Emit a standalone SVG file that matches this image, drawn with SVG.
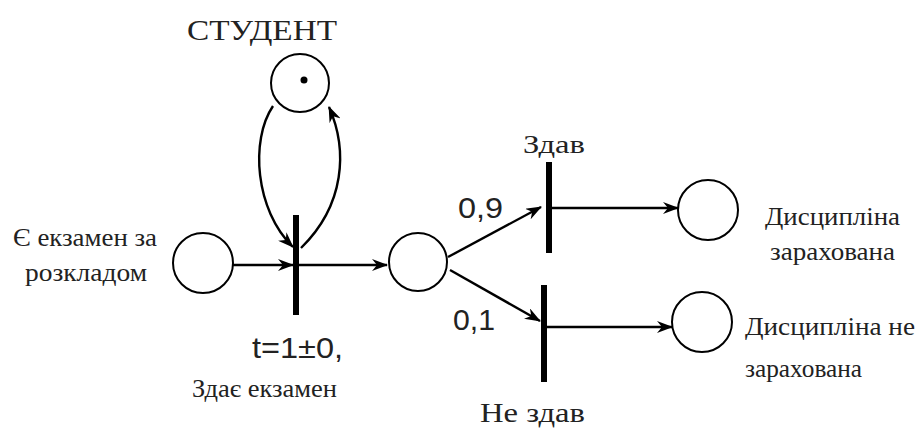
<svg xmlns="http://www.w3.org/2000/svg" width="918" height="429" viewBox="0 0 918 429">
<style>
.place{fill:#fff;stroke:#000;stroke-width:2}
.bar{stroke:#000;stroke-width:6}
.arc{fill:none;stroke:#000;stroke-width:2.4;marker-end:url(#ah)}
.serif{font-family:'Liberation Serif','DejaVu Serif',serif;fill:#222}
.sans{font-family:'Liberation Sans','DejaVu Sans',sans-serif;fill:#222}
</style>
<defs>
<marker id="ah" viewBox="0 0 16 12" refX="15" refY="6" markerWidth="16" markerHeight="12" markerUnits="userSpaceOnUse" orient="auto">
<path d="M0,0 L16,6 L0,12 L5,6 Z" fill="#000"/>
</marker>
</defs>
<rect width="918" height="429" fill="#fff"/>
<g id="connectors">
<line class="arc" x1="233" y1="265" x2="293" y2="265"/>
<line class="arc" x1="298" y1="265" x2="387" y2="265"/>
<path class="arc" d="M273,106 C250,140 255,210 293,247"/>
<path class="arc" d="M301,248 C345,205 348,150 329,107"/>
<line class="arc" x1="448" y1="257" x2="541" y2="207"/>
<line class="arc" x1="450" y1="270" x2="540" y2="321"/>
<line class="arc" x1="552" y1="208" x2="678" y2="208"/>
<line class="arc" x1="547" y1="327" x2="672" y2="327"/>
</g>
<g id="p-student">
<circle class="place" cx="300" cy="83" r="29"/>
<circle cx="304" cy="80" r="3.5" fill="#000"/>
<text class="serif" x="187" y="40" font-size="30" textLength="150" lengthAdjust="spacingAndGlyphs">СТУДЕНТ</text>
</g>
<g id="p-exam">
<circle class="place" cx="203" cy="263" r="30"/>
<text class="serif" x="13" y="246" font-size="26" textLength="144" lengthAdjust="spacingAndGlyphs">Є екзамен за</text>
<text class="serif" x="25" y="281" font-size="26" textLength="122" lengthAdjust="spacingAndGlyphs">розкладом</text>
</g>
<g id="t-exam">
<line class="bar" x1="296" y1="215" x2="296" y2="315"/>
<text class="sans" x="252" y="358" font-size="30" textLength="91" lengthAdjust="spacingAndGlyphs">t=1±0,</text>
<text class="serif" x="192" y="397" font-size="25" textLength="145" lengthAdjust="spacingAndGlyphs">Здає екзамен</text>
</g>
<g id="p-mid">
<circle class="place" cx="418" cy="262" r="29"/>
</g>
<g id="t-pass">
<line class="bar" x1="549" y1="162" x2="549" y2="253"/>
<text class="serif" x="523" y="153" font-size="25" textLength="62" lengthAdjust="spacingAndGlyphs">Здав</text>
<text class="sans" x="458" y="218" font-size="30" textLength="45" lengthAdjust="spacingAndGlyphs">0,9</text>
</g>
<g id="t-fail">
<line class="bar" x1="544" y1="285" x2="544" y2="382"/>
<text class="serif" x="480" y="422" font-size="28" textLength="105" lengthAdjust="spacingAndGlyphs">Не здав</text>
<text class="sans" x="453" y="330" font-size="30" textLength="42" lengthAdjust="spacingAndGlyphs">0,1</text>
</g>
<g id="p-passed">
<circle class="place" cx="708" cy="210" r="30"/>
<text class="serif" x="765" y="225" font-size="25" textLength="135" lengthAdjust="spacingAndGlyphs">Дисципліна</text>
<text class="serif" x="770" y="260" font-size="25" textLength="125" lengthAdjust="spacingAndGlyphs">зарахована</text>
</g>
<g id="p-failed">
<circle class="place" cx="702" cy="322" r="30"/>
<text class="serif" x="745" y="335" font-size="25" textLength="170" lengthAdjust="spacingAndGlyphs">Дисципліна не</text>
<text class="serif" x="745" y="377" font-size="25" textLength="117" lengthAdjust="spacingAndGlyphs">зарахована</text>
</g>
</svg>
